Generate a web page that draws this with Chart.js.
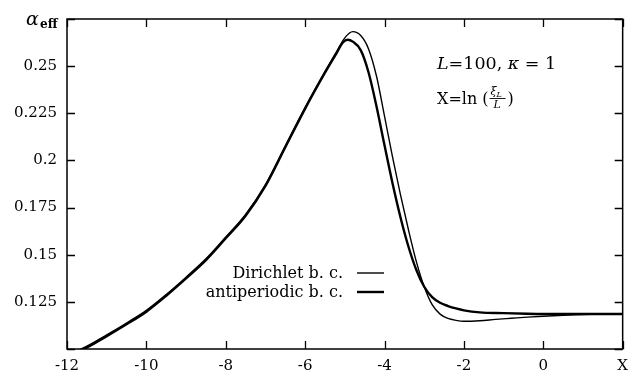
<!DOCTYPE html>
<html>
<head>
<meta charset="utf-8">
<script src="https://cdn.jsdelivr.net/npm/chart.js@4.4.0/dist/chart.umd.min.js"></script>
<style>
  html, body { margin: 0; padding: 0; background: #fff; }
  canvas { display: block; }
</style>
</head>
<body>
<canvas id="chartCanvas" width="636" height="380"></canvas>
<script>
// alpha_eff vs X = ln(xi_L / L), L = 100, kappa = 1
const dirX = [-11.8, -11.5, -11, -10.5, -10, -9.5, -9, -8.5, -8, -7.5, -7, -6.5, -6, -5.5, -5.2, -5.0, -4.8, -4.6, -4.4, -4.2, -4.0, -3.8, -3.6, -3.4, -3.2, -3.0, -2.8, -2.6, -2.4, -2.2, -2.0, -1.6, -1.2, -0.8, -0.4, 0, 0.5, 1, 1.5, 2];
const dirY = [0.0985, 0.1015, 0.1075, 0.1138, 0.1205, 0.1289, 0.1381, 0.1478, 0.1594, 0.1714, 0.1872, 0.2077, 0.2282, 0.2472, 0.2580, 0.2650, 0.2683, 0.2662, 0.2590, 0.2445, 0.2235, 0.2020, 0.1820, 0.1635, 0.1465, 0.1330, 0.1235, 0.1185, 0.1162, 0.1152, 0.1147, 0.1150, 0.1157, 0.1163, 0.1169, 0.1174, 0.1179, 0.1183, 0.1185, 0.1186];

const apX = [-11.8, -11.5, -11, -10.5, -10, -9.5, -9, -8.5, -8, -7.5, -7, -6.5, -6, -5.5, -5.2, -5.05, -4.925, -4.8, -4.6, -4.4, -4.2, -4.0, -3.8, -3.6, -3.4, -3.2, -3.0, -2.8, -2.6, -2.4, -2.2, -2.0, -1.6, -1.0, -0.4, 0, 1, 2];
const apY = [0.0978, 0.1008, 0.1068, 0.1131, 0.1198, 0.1282, 0.1374, 0.1471, 0.1587, 0.1707, 0.1865, 0.2070, 0.2275, 0.2465, 0.2572, 0.2625, 0.2640, 0.2630, 0.2585, 0.2465, 0.2285, 0.2080, 0.1880, 0.1700, 0.1545, 0.1420, 0.1330, 0.1275, 0.1245, 0.1228, 0.1215, 0.1205, 0.1194, 0.1190, 0.1187, 0.1186, 0.1186, 0.1186];

const xTickValues = [-12, -10, -8, -6, -4, -2, 0, 2];
const xTickLabels = ["-12", "-10", "-8", "-6", "-4", "-2", "0", "X"];
const yTickValues = [0.1, 0.125, 0.15, 0.175, 0.2, 0.225, 0.25, 0.275];
const yTickLabels = ["", "0.125", "0.15", "0.175", "0.2", "0.225", "0.25", ""];

const seriesNames = ["Dirichlet b. c.", "antiperiodic b. c."];
const seriesWidths = [1.4, 2.4];

const serif = "'DejaVu Serif', serif";

function toPoints(xs, ys) {
    return xs.map((x, i) => ({ x: x, y: ys[i] }));
}

// box, inward ticks on all four sides, axis title, legend and text
const framePlugin = {
    id: "frame",
    afterDraw(chart) {
        const c = chart.ctx;
        const a = chart.chartArea;
        const xs = chart.scales.x;
        const ys = chart.scales.y;
        const tl = 8;
        c.save();
        c.strokeStyle = "#000";
        c.lineWidth = 1.5;
        c.strokeRect(a.left, a.top, a.right - a.left, a.bottom - a.top);
        c.lineWidth = 1.3;
        c.beginPath();
        xTickValues.forEach(v => {
            const px = Math.round(xs.getPixelForValue(v)) + 0.5;
            c.moveTo(px, a.bottom); c.lineTo(px, a.bottom - tl);
            c.moveTo(px, a.top); c.lineTo(px, a.top + tl);
        });
        yTickValues.forEach(v => {
            const py = Math.round(ys.getPixelForValue(v)) + 0.5;
            c.moveTo(a.left, py); c.lineTo(a.left + tl, py);
            c.moveTo(a.right, py); c.lineTo(a.right - tl, py);
        });
        c.stroke();

        c.fillStyle = "#000";
        c.textBaseline = "alphabetic";

        // alpha_eff at the top of the y axis
        const ty = ys.getPixelForValue(0.275) + 6;
        c.font = "italic 19px " + serif;
        c.textAlign = "left";
        c.fillText("\u03b1", 26, ty);
        c.font = "bold 12px " + serif;
        c.fillText("eff", 40, ty + 3);

        // legend
        c.font = "16px " + serif;
        c.textAlign = "right";
        const lx = 343;
        const rows = [278, 297];
        seriesNames.forEach((name, i) => {
            c.fillText(name, lx, rows[i]);
            c.lineWidth = seriesWidths[i];
            c.beginPath();
            c.moveTo(357, rows[i] - 5);
            c.lineTo(384, rows[i] - 5);
            c.stroke();
        });

        // parameters
        c.textAlign = "left";
        let x0 = 437;
        const b1 = 69;
        const parts = [
            ["italic 17.5px " + serif, "L"],
            ["17.5px " + serif, "=100, "],
            ["italic 17.5px " + serif, "\u03ba"],
            ["17.5px " + serif, " = 1"]
        ];
        parts.forEach(p => {
            c.font = p[0];
            c.fillText(p[1], x0, b1);
            x0 += c.measureText(p[1]).width;
        });

        const b2 = 104;
        x0 = 437;
        c.font = "16px " + serif;
        c.fillText("X=ln (", x0, b2);
        x0 += c.measureText("X=ln (").width + 1;
        c.font = "italic 11px " + serif;
        c.fillText("\u03be", x0 + 1, b2 - 9);
        const xiW = c.measureText("\u03be").width;
        c.font = "italic 8px " + serif;
        c.fillText("L", x0 + 1 + xiW, b2 - 7);
        c.lineWidth = 0.9;
        c.beginPath();
        c.moveTo(x0, b2 - 5.5);
        c.lineTo(x0 + 16, b2 - 5.5);
        c.stroke();
        c.font = "italic 11px " + serif;
        c.fillText("L", x0 + 4, b2 + 4);
        c.font = "16px " + serif;
        c.fillText(")", x0 + 18, b2);
        c.restore();
    }
};

const ctx = document.getElementById("chartCanvas").getContext("2d");

const config = {
    type: "line",
    data: {
        datasets: [
            {
                label: seriesNames[0],
                data: toPoints(dirX, dirY),
                borderColor: "#000",
                borderWidth: seriesWidths[0],
                pointRadius: 0,
                cubicInterpolationMode: "monotone",
                fill: false
            },
            {
                label: seriesNames[1],
                data: toPoints(apX, apY),
                borderColor: "#000",
                borderWidth: seriesWidths[1],
                pointRadius: 0,
                cubicInterpolationMode: "monotone",
                fill: false
            }
        ]
    },
    options: {
        responsive: false,
        animation: false,
        layout: { padding: { left: 0, right: 11, top: 13, bottom: 0 } },
        scales: {
            x: {
                type: "linear",
                min: -12,
                max: 2,
                afterBuildTicks: s => { s.ticks = xTickValues.map(v => ({ value: v })); },
                afterFit: s => { s.height = 31; },
                grid: { display: false, drawTicks: false },
                border: { display: false },
                ticks: {
                    padding: 8,
                    color: "#000",
                    font: { family: serif, size: 15 },
                    maxRotation: 0,
                    callback: v => xTickLabels[xTickValues.indexOf(v)]
                }
            },
            y: {
                min: 0.1,
                max: 0.275,
                afterBuildTicks: s => { s.ticks = yTickValues.map(v => ({ value: v })); },
                afterFit: s => { s.width = 67; },
                grid: { display: false, drawTicks: false },
                border: { display: false },
                ticks: {
                    padding: 10,
                    color: "#000",
                    font: { family: serif, size: 15 },
                    callback: v => yTickLabels[yTickValues.findIndex(t => Math.abs(t - v) < 1e-9)]
                }
            }
        },
        plugins: {
            legend: { display: false },
            tooltip: { enabled: false }
        }
    },
    plugins: [framePlugin]
};

const chart = new Chart(ctx, config);
</script>
</body>
</html>
